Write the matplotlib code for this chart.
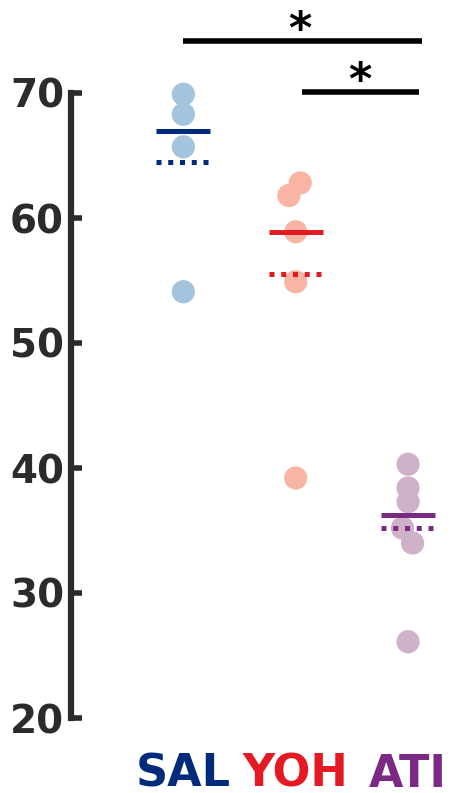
import numpy as np
import matplotlib
matplotlib.use("Agg")
import matplotlib.pyplot as plt

# groups and their measured values
groups = ["SAL", "YOH", "ATI"]
sal = [69.9, 68.3, 65.7, 54.1]
yoh = [62.8, 61.8, 58.9, 54.9, 39.2]
ati = [40.3, 38.4, 37.3, 35.2, 34.0, 26.1]
# small horizontal offsets so overlapping dots stay visible
sal_jit = [0, 0, 0, 0]
yoh_jit = [0.04, -0.06, 0, 0, 0]
ati_jit = [0, 0, 0, -0.05, 0.04, 0]

yticks = [20, 30, 40, 50, 60, 70]
# significance brackets: (x start, x end, y, star x)
sig_pairs = [(0, 2.12, 74.2, 1.04), (1.06, 2.1, 70.1, 1.57)]

dot_colors = ["#a3c4dc", "#f9b5a4", "#cfb2c9"]
line_colors = ["#002a7a", "#e31a23", "#7b2a84"]
axis_col = "#2b2b2b"

fig = plt.figure(figsize=(4.54, 7.93), dpi=100)
ax = fig.add_axes([71 / 454, 75 / 793, 1 - 71 / 454, 625 / 793])

data = [sal, yoh, ati]
jit = [sal_jit, yoh_jit, ati_jit]
hw = 0.24
for i, vals in enumerate(data):
    xs = i + np.array(jit[i])
    ax.scatter(xs, vals, s=280, color=dot_colors[i], edgecolor="none",
               zorder=2, clip_on=False)
    med = np.median(vals)
    mean = np.mean(vals)
    # solid = median, dotted = mean
    ax.plot([i - hw, i + hw], [med, med], color=line_colors[i], lw=3.6,
            solid_capstyle="butt", zorder=3)
    ax.plot([i - hw, i + hw], [mean, mean], color=line_colors[i], lw=3.6,
            linestyle=(0, (1, 1.35)), zorder=3)

for x0, x1, y, sx in sig_pairs:
    ax.plot([x0, x1], [y, y], color="black", lw=4, clip_on=False,
            solid_capstyle="butt")
    ax.text(sx, y - 0.9, "*", ha="center", va="bottom", fontsize=32,
            fontweight="bold", color="black")

ax.set_xlim(-1, (454 - 183) / 112.5)
ax.set_ylim(20, 70)
ax.set_yticks(yticks)
ax.set_yticklabels([str(t) for t in yticks], fontsize=28, fontweight="bold",
                   color=axis_col)
ax.set_xticks(range(len(groups)))
ax.set_xticklabels(groups, fontsize=32, fontweight="bold")
for lab, c in zip(ax.get_xticklabels(), line_colors):
    lab.set_color(c)

ax.tick_params(axis="y", direction="in", length=8, width=4, color=axis_col,
               pad=5)
ax.tick_params(axis="x", length=0, pad=25)
for s in ["top", "right", "bottom"]:
    ax.spines[s].set_visible(False)
ax.spines["left"].set_linewidth(4.5)
ax.spines["left"].set_color(axis_col)

fig.savefig("out.png", dpi=100)
